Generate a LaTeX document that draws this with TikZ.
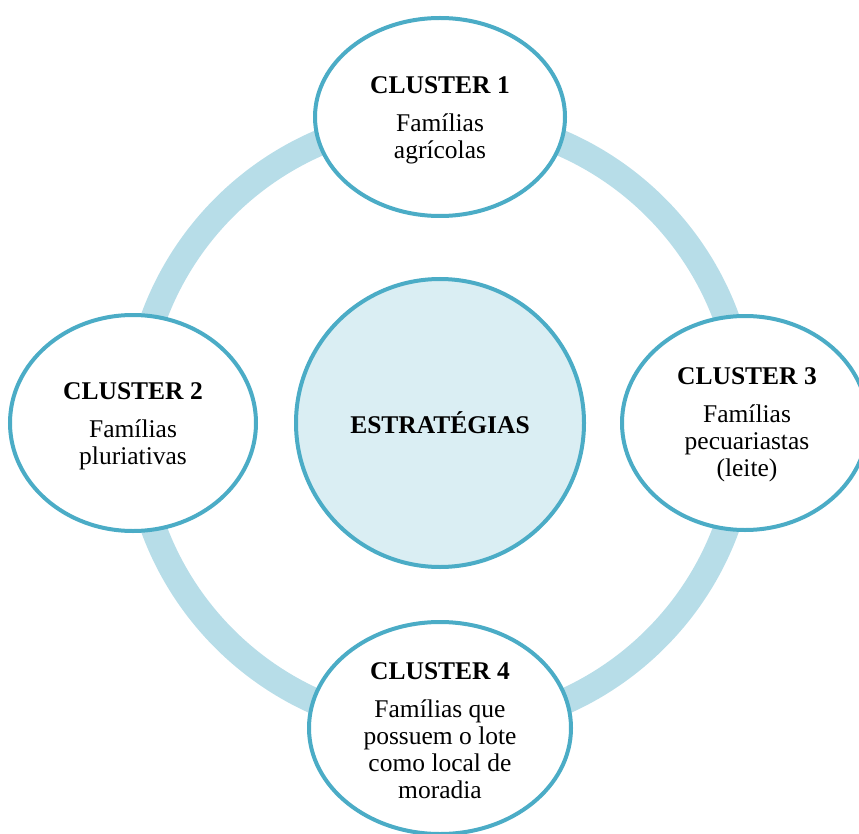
\documentclass[tikz,border=0pt]{standalone}
\usepackage{fontspec}
\setmainfont{Liberation Serif}
\usetikzlibrary{shapes.geometric}
\definecolor{ringc}{HTML}{B7DDE8}
\definecolor{edgec}{HTML}{4BACC6}
\definecolor{hubfill}{HTML}{DAEEF3}
\tikzset{
  clusterbox/.style={ellipse, draw=edgec, line width=4pt, fill=white, inner sep=0pt},
  hubbox/.style={circle, draw=edgec, line width=4pt, fill=hubfill, inner sep=0pt, minimum size=288pt},
  txt/.style={align=center, inner sep=0pt, font=\fontsize{25.5}{27}\selectfont},
}
\begin{document}
\begin{tikzpicture}[x=1pt,y=-1pt]
\useasboundingbox (0,0) rectangle (859,834);
\clip (0,0) rectangle (859,834);
\coordinate (o) at (440,423);
\draw[ringc, line width=26pt] (o) circle[radius=305pt];
\node[hubbox] (hub) at (o) {};
\node[txt] (hubt) at (hub) {\textbf{ESTRATÉGIAS}};
\node[clusterbox, minimum width=250pt, minimum height=198pt] (c1) at (440,117) {};
\node[clusterbox, minimum width=246pt, minimum height=216pt] (c2) at (133,423) {};
\node[clusterbox, minimum width=246pt, minimum height=214pt] (c3) at (745,423) {};
\node[clusterbox, minimum width=262pt, minimum height=212pt] (c4) at (440,728) {};
\node[txt] (t1) at ([yshift=-3pt]c1) {\textbf{CLUSTER 1}\\[11pt]Famílias\\agrícolas};
\node[txt] (t2) at ([yshift=-3pt]c2) {\textbf{CLUSTER 2}\\[11pt]Famílias\\pluriativas};
\node[txt] (t3) at ([xshift=2pt,yshift=-2pt]c3) {\textbf{CLUSTER 3}\\[11pt]Famílias\\pecuariastas\\(leite)};
\node[txt] (t4) at ([yshift=-3pt]c4) {\textbf{CLUSTER 4}\\[11pt]Famílias que\\possuem o lote\\como local de\\moradia};
\end{tikzpicture}
\end{document}
